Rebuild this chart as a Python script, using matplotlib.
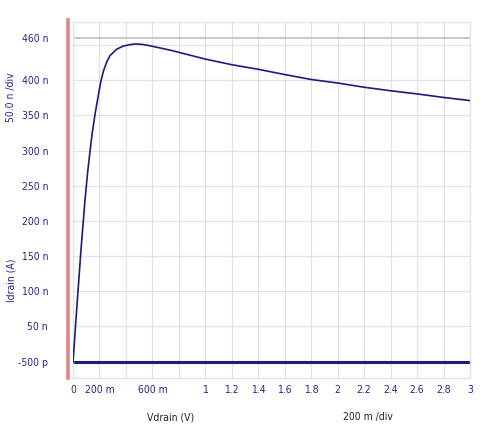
import matplotlib
matplotlib.use("Agg")
import matplotlib.pyplot as plt
from matplotlib.lines import Line2D

plt.rcParams['font.family'] = ['DejaVu Sans']
plt.rcParams['font.stretch'] = 'condensed'

# Idrain vs Vdrain (values in nA)
vdrain = [0.0, 0.03, 0.06, 0.09, 0.11, 0.128, 0.146, 0.166, 0.19, 0.21, 0.23, 0.255,
          0.28, 0.33, 0.38, 0.43, 0.47, 0.52, 0.58, 0.75, 1.0, 1.2, 1.4, 1.6, 1.8,
          2.0, 2.2, 2.4, 2.6, 2.8, 3.0]
idrain = [-0.5, 80, 158, 228, 268, 298, 326, 351, 377, 398, 413, 426,
          435, 444, 448.5, 450.5, 451.5, 451, 449, 442, 430, 422, 415.5, 408, 401,
          396, 390, 385, 380.5, 375.5, 371]
vdrain_off = [0.0, 3.0]
idrain_off = [-0.5, -0.5]

yticks = [-0.5, 50, 100, 150, 200, 250, 300, 350, 400, 460]
yticklabels = ['-500 p', '50 n', '100 n', '150 n', '200 n', '250 n', '300 n', '350 n', '400 n', '460 n']
xticks = [0, 0.2, 0.6, 1, 1.2, 1.4, 1.6, 1.8, 2, 2.2, 2.4, 2.6, 2.8, 3]
xticklabels = ['0', '200 m', '600 m', '1', '1.2', '1.4', '1.6', '1.8', '2', '2.2', '2.4', '2.6', '2.8', '3']

navy = '#1c1c7e'
text_col = '#26268a'
grid_col = '#e2e2e2'

fig = plt.figure(figsize=(4.84, 4.25), dpi=100)
ax = fig.add_axes([73 / 484, 1 - 378 / 425, 397 / 484, 356 / 425])

# grid
for v in [i * 0.2 for i in range(16)]:
    ax.axvline(v, color=grid_col, lw=0.9, zorder=0)
for v in [0, 50, 100, 150, 200, 250, 300, 350, 400, 450]:
    ax.axhline(v, color=grid_col, lw=0.9, zorder=0)
ax.axhline(460, color='#c8c8c8', lw=1.4, zorder=0)

ax.plot(vdrain_off, idrain_off, color=navy, lw=2.2, zorder=2)
ax.plot(vdrain, idrain, color=navy, lw=1.2, zorder=3)

ax.set_xlim(0, 3)
ax.set_ylim(-23.2, 482.7)
for s in ax.spines.values():
    s.set_color(grid_col)
    s.set_linewidth(0.9)

ax.set_xticks(xticks)
ax.set_xticklabels(xticklabels)
ax.set_yticks(yticks)
ax.set_yticklabels(yticklabels)
ax.tick_params(axis='both', length=0, labelsize=7.5, labelcolor=text_col)
ax.tick_params(axis='y', pad=18)
ax.tick_params(axis='x', pad=5)

# red marker bar on the left
fig.add_artist(Line2D([68 / 484, 68 / 484], [1 - 20 / 425, 1 - 378 / 425],
                      color='#e08585', lw=2.6, transform=fig.transFigure))

fig.text(12 / 484, 1 - 280 / 425, 'Idrain (A)', rotation=90, color=text_col,
         fontsize=7.5, ha='center', va='center')
fig.text(11 / 484, 1 - 97 / 425, '50.0 n /div', rotation=90, color=text_col,
         fontsize=7.5, ha='center', va='center')
fig.text(171 / 484, 1 - 417 / 425, 'Vdrain (V)', color='#222222',
         fontsize=7.5, ha='center', va='center')
fig.text(368 / 484, 1 - 417 / 425, '200 m /div', color='#222222',
         fontsize=7.5, ha='center', va='center')

fig.savefig('out.png', dpi=100)
